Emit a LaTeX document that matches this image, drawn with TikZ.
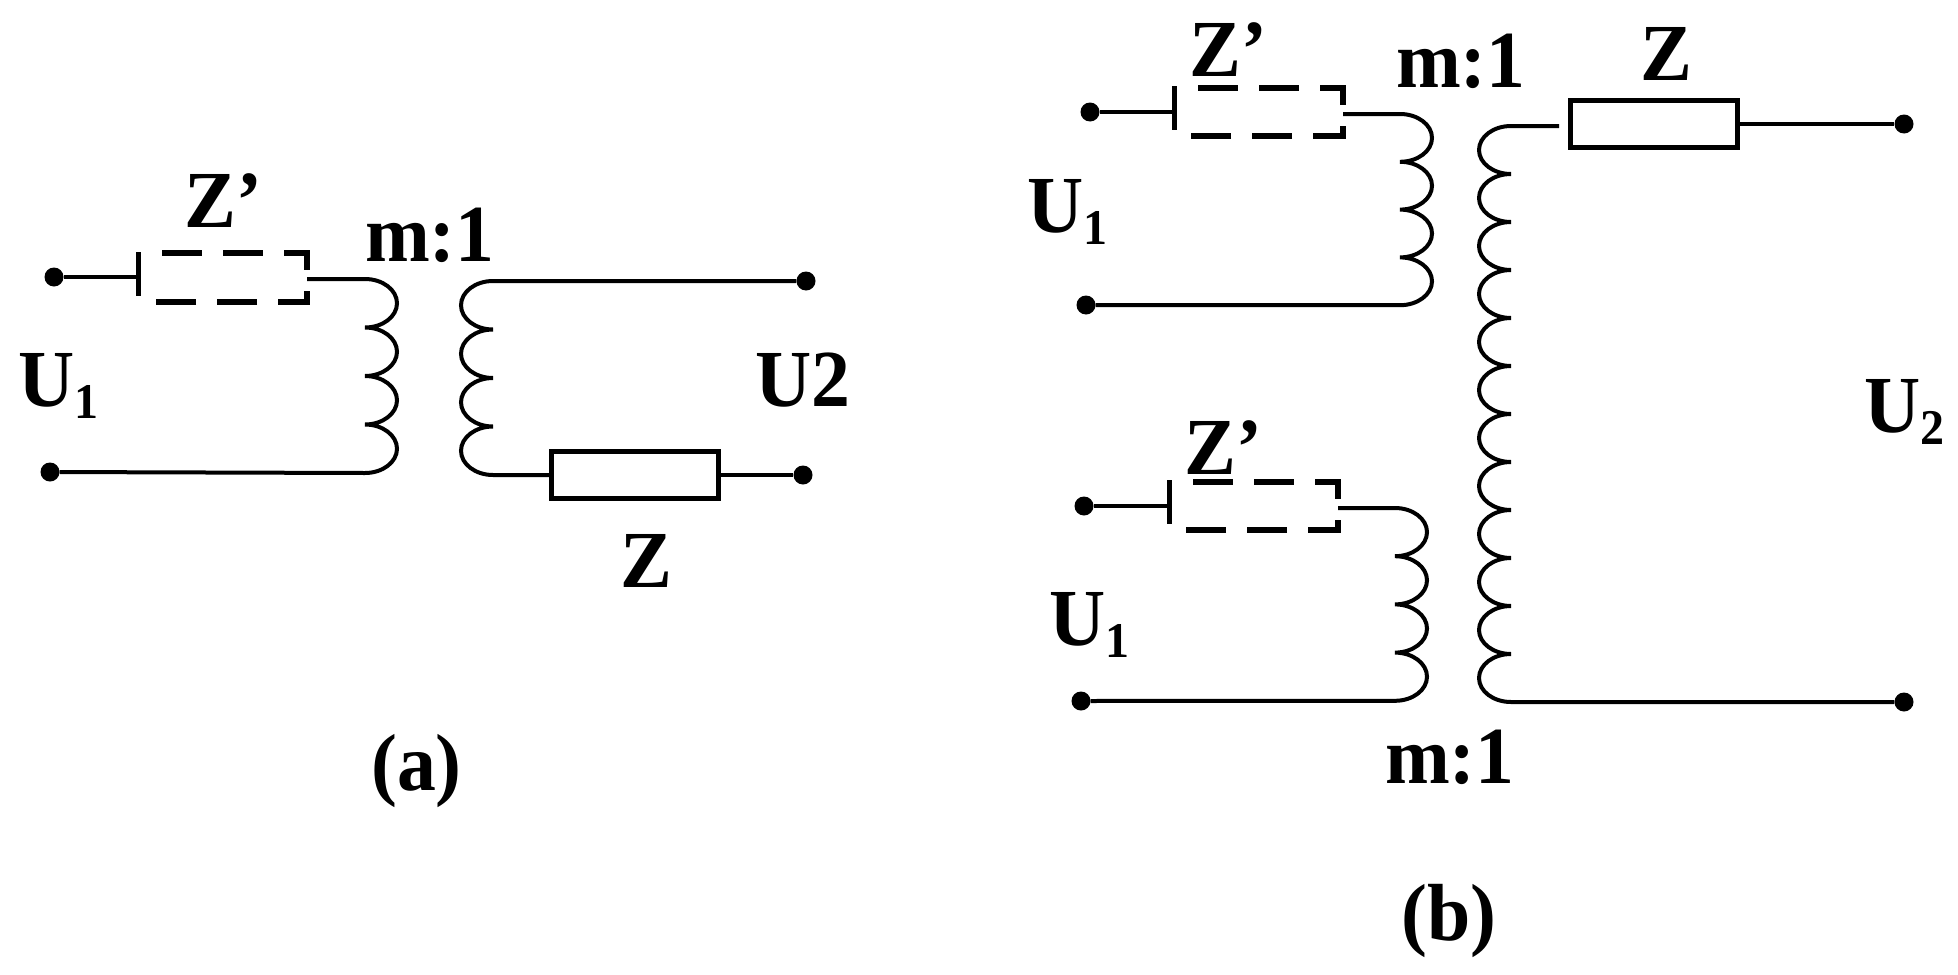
\documentclass[tikz,border=0pt]{standalone}
\usepackage{fontspec}
\setmainfont[FakeStretch=0.96]{Liberation Serif}
\newcommand{\biglab}{\fontsize{81}{90}\selectfont\bfseries}
\newcommand{\sublab}[1]{\raisebox{-12pt}{\fontsize{50}{55}\selectfont\bfseries #1}}
\newcommand{\coilR}[2]{\foreach \ci in {1,...,#1}{arc[start angle=-90,end angle=90,x radius=32,y radius=#2]}}
\newcommand{\coilL}[2]{\foreach \ci in {1,...,#1}{arc[start angle=-90,end angle=-270,x radius=32,y radius=#2]}}
\tikzset{
  wire/.style={line width=4pt},
  term/.style={circle,fill=black,inner sep=0pt,minimum size=19pt},
  zbox/.style={draw,line width=5pt,inner sep=0pt,minimum width=167pt,minimum height=47pt},
  lab/.style={anchor=base west,inner sep=0pt,font=\biglab},
  dbox/.style={line width=5.2pt,dash pattern=on 40pt off 21pt},
  bar/.style={line width=5pt}
}
\begin{document}
\begin{tikzpicture}[x=1pt,y=-1pt]
\useasboundingbox (0,0) rectangle (1958,974);
% (a)
\node[term] (a1) at (54,277) {};
\node[term] (a2) at (50,472) {};
\node[term] (a3) at (806,281) {};
\node[term] (a4) at (803,475) {};
\node[zbox] (aZ) at (635,475) {};
\coordinate (abar) at (138,277);
\coordinate (azp) at (307,279);
\coordinate (acs) at (365,279);
\coordinate (ace) at (365,473);
\coordinate (ads) at (493,281);
\coordinate (ade) at (493,475);
\draw[bar] (138,252) -- (138,296);
\draw[dbox] (162,253) -- (307,253) -- (307,302) -- (155,302);
\draw[wire] (a1) -- (abar);
\draw[wire] (azp) -- (acs) \coilR{4}{24.25} -- (a2);
\draw[wire] (a3) -- (ads) \coilL{4}{24.25} -- (aZ.west);
\draw[wire] (aZ.east) -- (a4);
\node[lab] (tza) at (184,227) {Z’};
\node[lab] (tma) at (365,261) {m:1};
\node[lab] (tua) at (18,406) {U\sublab{1}};
\node[lab] (tub) at (755,406) {U2};
\node[lab] (tzz) at (620,587) {Z};
\node[lab] (tpa) at (371,790) {(a)};
% (b)
\node[term] (b1) at (1090,112) {};
\node[term] (b2) at (1086,305) {};
\node[term] (b3) at (1084,506) {};
\node[term] (b4) at (1081,701) {};
\node[term] (b5) at (1904,124) {};
\node[term] (b6) at (1904,702) {};
\node[zbox] (bZ) at (1654,124) {};
\coordinate (bbar1) at (1174,112);
\coordinate (bzp1) at (1343,114);
\coordinate (bcs1) at (1400,114);
\coordinate (bbar2) at (1169,506);
\coordinate (bzp2) at (1338,508);
\coordinate (bcs2) at (1395,508);
\coordinate (bds) at (1511,126);
\coordinate (bdf) at (1559,126);
\draw[bar] (1174,86) -- (1174,130);
\draw[bar] (1169,480) -- (1169,524);
\draw[dbox] (1198,88) -- (1343,88) -- (1343,136) -- (1190,136);
\draw[dbox] (1193,482) -- (1338,482) -- (1338,530) -- (1185,530);
\draw[wire] (b1) -- (bbar1);
\draw[wire] (b3) -- (bbar2);
\draw[wire] (bzp1) -- (bcs1) \coilR{4}{23.9} -- (b2);
\draw[wire] (bzp2) -- (bcs2) \coilR{4}{24.1} -- (b4);
\draw[wire] (bdf) -- (bds) \coilL{12}{24} -- (b6);
\draw[wire] (bZ.east) -- (b5);
\node[lab] (tzb1) at (1189,77) {Z’};
\node[lab] (tzb2) at (1184,474) {Z’};
\node[lab] (tmb1) at (1396,88) {m:1};
\node[lab] (tmb2) at (1385,783) {m:1};
\node[lab] (tub1) at (1027,232) {U\sublab{1}};
\node[lab] (tub2) at (1049,645) {U\sublab{1}};
\node[lab] (tub3) at (1864,432) {U\sublab{2}};
\node[lab] (tzb) at (1640,81) {Z};
\node[lab] (tpb) at (1401,940) {(b)};
\end{tikzpicture}
\end{document}
